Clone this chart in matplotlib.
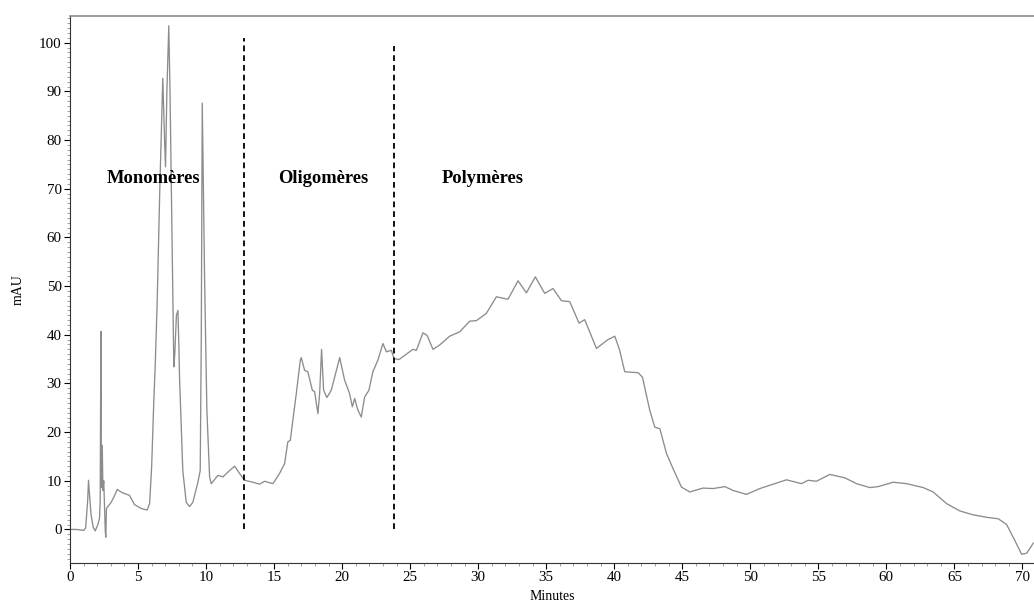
import matplotlib
matplotlib.use('Agg')
import matplotlib.pyplot as plt
from matplotlib.ticker import MultipleLocator

# chromatogram trace (time in minutes, signal in mAU)
TIME = [
    0.0, 0.5, 1.0, 1.15, 1.3, 1.36, 1.45, 1.55, 1.7, 1.85, 2.05, 2.17, 2.22,
    2.27, 2.3, 2.37, 2.42, 2.48, 2.59, 2.63, 2.68, 3.03, 3.25, 3.47, 3.88,
    4.37, 4.74, 5.23, 5.67, 5.85, 6.0, 6.16, 6.26, 6.41, 6.6, 6.82, 6.95,
    7.02, 7.12, 7.26, 7.35, 7.45, 7.51, 7.63, 7.7, 7.82, 7.93, 8.0, 8.05,
    8.29, 8.54, 8.79, 9.03, 9.4, 9.57, 9.65, 9.72, 9.8, 9.89, 10.06, 10.26,
    10.38, 10.87, 11.24, 11.73, 12.1, 12.46, 12.83, 13.44, 13.93, 14.3,
    14.91, 15.4, 15.77, 16.01, 16.19, 16.38, 16.63, 16.93, 17.0, 17.24,
    17.48, 17.81, 17.98, 18.22, 18.35, 18.49, 18.64, 18.88, 19.2, 19.82,
    20.18, 20.55, 20.75, 20.92, 21.16, 21.41, 21.65, 21.97, 22.26, 22.63,
    23.0, 23.25, 23.62, 23.81, 24.18, 24.47, 25.2, 25.46, 25.94, 26.24,
    26.68, 27.17, 27.9, 28.64, 29.38, 29.87, 30.6, 31.34, 32.19, 32.93,
    33.54, 34.2, 34.89, 35.5, 36.12, 36.73, 37.41, 37.83, 38.69, 39.54,
    40.04, 40.4, 40.77, 41.75, 42.07, 42.61, 42.98, 43.35, 43.84, 44.32,
    44.94, 45.55, 46.53, 47.26, 48.13, 48.74, 49.72, 50.7, 51.68, 52.66,
    53.76, 54.25, 54.86, 55.84, 56.95, 57.81, 58.79, 59.4, 60.5, 61.49,
    62.71, 63.44, 64.43, 65.4, 66.38, 67.36, 68.22, 68.84, 69.32, 69.94,
    70.31, 70.8,
]
MAU = [
    0.0, 0.0, -0.2, 0.3, 6.0, 10.1, 6.5, 3.0, 0.5, -0.3, 1.0, 2.3, 6.0,
    40.7, 8.6, 17.3, 8.0, 10.0, -0.2, -1.6, 4.3, 5.6, 6.8, 8.2, 7.5,
    7.0, 5.1, 4.3, 4.0, 5.3, 12.8, 26.5, 33.4, 47.0, 70.0, 92.7, 80.0,
    74.5, 90.0, 103.5, 90.0, 70.0, 58.8, 33.4, 36.0, 44.0, 45.0, 38.0, 31.3,
    12.1, 5.6, 4.7, 5.6, 9.7, 12.1, 40.0, 87.6, 70.0, 51.9, 24.5, 10.8,
    9.4, 11.1, 10.8, 12.1, 13.0, 11.5, 10.1, 9.7, 9.3, 9.9,
    9.4, 11.5, 13.5, 18.0, 18.3, 22.4, 27.9, 34.8, 35.3, 32.7,
    32.4, 28.6, 28.3, 23.8, 28.0, 37.0, 28.6, 27.1, 28.6, 35.3,
    30.7, 27.9, 25.2, 26.9, 24.5, 23.1, 27.2, 28.6, 32.4, 34.8,
    38.2, 36.5, 36.8, 35.1, 34.9, 35.5, 37.0, 36.8, 40.4, 39.9,
    37.0, 37.9, 39.7, 40.6, 42.8, 42.9, 44.4, 47.8, 47.3, 51.1,
    48.6, 51.9, 48.5, 49.5, 47.0, 46.8, 42.4, 43.1, 37.2, 39.0,
    39.7, 36.8, 32.4, 32.2, 31.3, 24.5, 21.0, 20.7, 15.6, 12.5,
    8.7, 7.7, 8.5, 8.4, 8.8, 8.0, 7.2, 8.4, 9.3, 10.2,
    9.4, 10.1, 9.9, 11.3, 10.6, 9.4, 8.6, 8.8, 9.7, 9.4,
    8.6, 7.7, 5.3, 3.8, 3.0, 2.5, 2.2, 1.0, -1.6, -5.1,
    -4.9, -2.8,
]

# fraction boundaries (minutes) and top of each dashed line (mAU)
LIMIT_TIMES = [12.76, 23.79]
LIMIT_TOPS = [101.0, 99.3]

# region labels: text, time, mAU
REGION_NAMES = ['Monomères', 'Oligomères', 'Polymères']
REGION_TIMES = [6.1, 18.6, 30.3]
REGION_LEVEL = 72.2

plt.rcParams['font.family'] = ['Liberation Serif', 'DejaVu Serif']

fig = plt.figure(figsize=(10.34, 6.03), dpi=100)
ax = fig.add_axes([0.0677, 0.0663, 0.9323, 0.9072])

ax.plot(TIME, MAU, color='#8c8c8c', linewidth=0.95)

for t, top in zip(LIMIT_TIMES, LIMIT_TOPS):
    ax.plot([t, t], [0, top], color='black', linewidth=1.3,
            linestyle=(0, (3.2, 2.2)))

for name, t in zip(REGION_NAMES, REGION_TIMES):
    ax.text(t, REGION_LEVEL, name, ha='center', va='center',
            fontsize=13.3, fontweight='bold')

ax.set_xlim(0, 70.85)
ax.set_ylim(-6.9, 105.5)
ax.xaxis.set_major_locator(MultipleLocator(5))
ax.xaxis.set_minor_locator(MultipleLocator(1))
ax.yaxis.set_major_locator(MultipleLocator(10))
ax.yaxis.set_minor_locator(MultipleLocator(1))
ax.set_yticks(range(0, 101, 10))
ax.tick_params(axis='both', which='major', direction='out', length=4,
               width=0.8, labelsize=10.8, pad=2)
ax.tick_params(axis='both', which='minor', direction='out', length=2,
               width=0.5, color='#777777')

ax.spines['right'].set_visible(False)
ax.spines['top'].set_color('#8a8a8a')
ax.spines['top'].set_linewidth(1.2)
ax.spines['left'].set_color('#333333')
ax.spines['bottom'].set_color('#333333')

ax.set_xlabel('Minutes', fontsize=10, labelpad=4)
ax.set_ylabel('mAU', fontsize=10, labelpad=10)

fig.savefig('out.png', dpi=100)
